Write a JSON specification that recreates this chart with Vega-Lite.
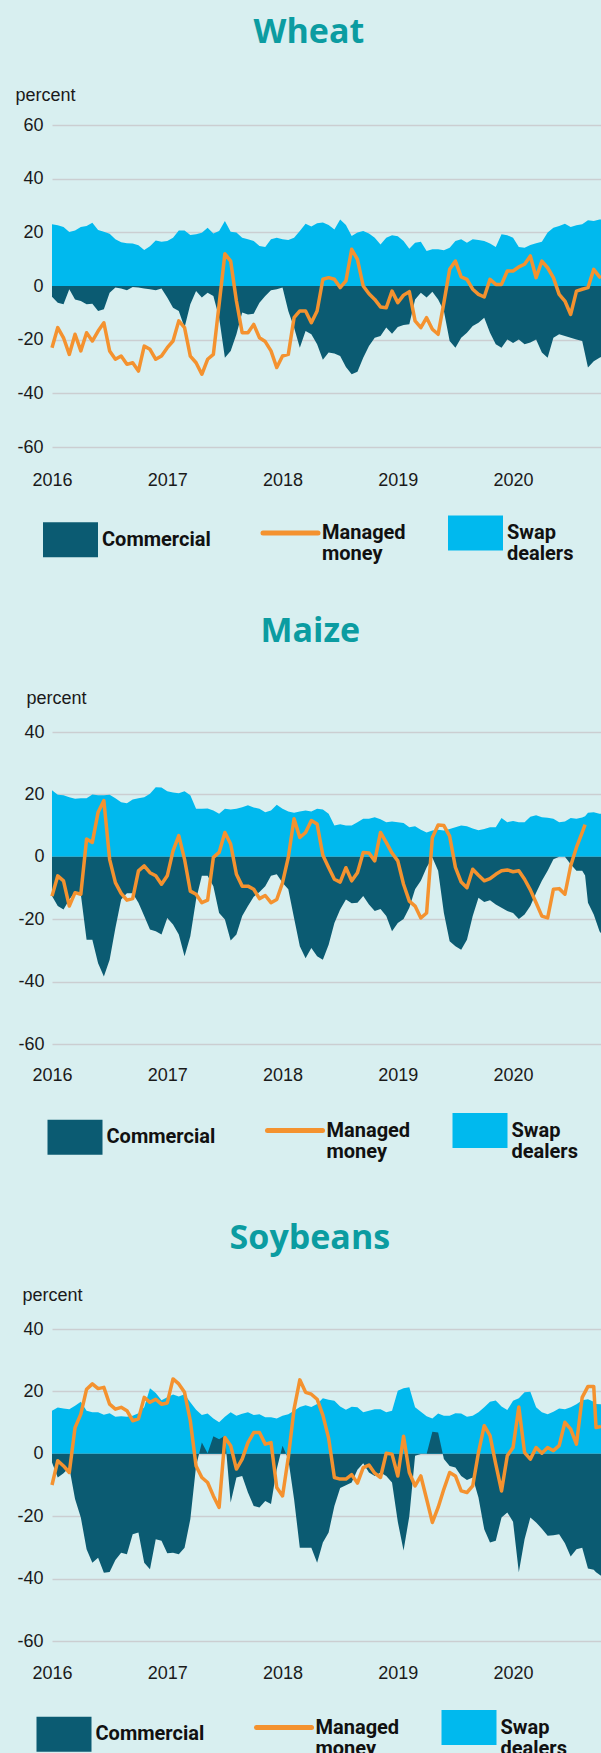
{
"$schema": "https://vega.github.io/schema/vega-lite/v6.json",
"background": "#d8eff0",
"padding": {"left": 15, "top": 16, "right": 0, "bottom": 0},
"spacing": 51,
"config": {"view": {"stroke": null}, "font": "Liberation Sans"},
"datasets": {
"wheat": [
{"year":2016.00,"commercial":-4.0,"managed":-23.0,"swap":23.0},
{"year":2016.05,"commercial":-6.2,"managed":-15.5,"swap":22.6},
{"year":2016.10,"commercial":-6.8,"managed":-19.3,"swap":22.0},
{"year":2016.15,"commercial":-1.2,"managed":-25.5,"swap":20.1},
{"year":2016.20,"commercial":-5.0,"managed":-18.0,"swap":20.7},
{"year":2016.25,"commercial":-5.6,"managed":-24.2,"swap":22.0},
{"year":2016.30,"commercial":-6.8,"managed":-17.4,"swap":22.4},
{"year":2016.35,"commercial":-6.6,"managed":-20.5,"swap":23.6},
{"year":2016.40,"commercial":-9.3,"managed":-16.8,"swap":20.9},
{"year":2016.45,"commercial":-8.7,"managed":-13.7,"swap":20.2},
{"year":2016.50,"commercial":-2.5,"managed":-24.2,"swap":19.5},
{"year":2016.55,"commercial":-0.6,"managed":-27.3,"swap":17.4},
{"year":2016.60,"commercial":-0.9,"managed":-26.1,"swap":16.3},
{"year":2016.65,"commercial":-1.6,"managed":-29.2,"swap":15.9},
{"year":2016.70,"commercial":-0.4,"managed":-28.6,"swap":15.8},
{"year":2016.75,"commercial":-0.6,"managed":-31.7,"swap":15.2},
{"year":2016.80,"commercial":-0.9,"managed":-22.4,"swap":13.4},
{"year":2016.85,"commercial":-1.2,"managed":-23.6,"swap":14.8},
{"year":2016.90,"commercial":-1.6,"managed":-27.3,"swap":17.0},
{"year":2016.95,"commercial":-0.9,"managed":-26.1,"swap":16.5},
{"year":2017.00,"commercial":-4.3,"managed":-23.0,"swap":16.8},
{"year":2017.05,"commercial":-8.1,"managed":-20.5,"swap":18.0},
{"year":2017.10,"commercial":-9.3,"managed":-13.0,"swap":20.7},
{"year":2017.15,"commercial":-15.5,"managed":-15.5,"swap":20.7},
{"year":2017.20,"commercial":-6.8,"managed":-26.1,"swap":19.0},
{"year":2017.25,"commercial":-1.9,"managed":-28.6,"swap":19.3},
{"year":2017.30,"commercial":-4.3,"managed":-32.9,"swap":19.8},
{"year":2017.35,"commercial":-2.5,"managed":-27.3,"swap":21.7},
{"year":2017.40,"commercial":-3.7,"managed":-25.5,"swap":19.6},
{"year":2017.45,"commercial":-11.8,"managed":-6.8,"swap":20.5},
{"year":2017.50,"commercial":-26.7,"managed":12.0,"swap":24.2},
{"year":2017.55,"commercial":-24.2,"managed":9.3,"swap":20.2},
{"year":2017.60,"commercial":-18.0,"managed":-5.6,"swap":19.9},
{"year":2017.65,"commercial":-9.9,"managed":-17.4,"swap":18.0},
{"year":2017.70,"commercial":-10.6,"managed":-17.4,"swap":17.4},
{"year":2017.75,"commercial":-10.3,"managed":-14.3,"swap":16.8},
{"year":2017.80,"commercial":-6.2,"managed":-19.3,"swap":14.9},
{"year":2017.85,"commercial":-3.7,"managed":-20.7,"swap":14.5},
{"year":2017.90,"commercial":-1.6,"managed":-24.2,"swap":17.4},
{"year":2017.95,"commercial":-1.2,"managed":-30.4,"swap":18.0},
{"year":2018.00,"commercial":-0.6,"managed":-26.1,"swap":17.4},
{"year":2018.05,"commercial":-9.3,"managed":-25.5,"swap":17.1},
{"year":2018.10,"commercial":-15.5,"managed":-11.8,"swap":18.0},
{"year":2018.15,"commercial":-23.0,"managed":-9.3,"swap":20.5},
{"year":2018.20,"commercial":-16.8,"managed":-9.3,"swap":23.2},
{"year":2018.25,"commercial":-18.0,"managed":-13.7,"swap":22.2},
{"year":2018.30,"commercial":-21.7,"managed":-9.3,"swap":23.4},
{"year":2018.35,"commercial":-27.5,"managed":2.5,"swap":23.7},
{"year":2018.40,"commercial":-24.8,"managed":3.1,"swap":22.7},
{"year":2018.45,"commercial":-25.2,"managed":2.5,"swap":21.1},
{"year":2018.50,"commercial":-26.1,"managed":-0.6,"swap":24.8},
{"year":2018.55,"commercial":-30.2,"managed":1.9,"swap":22.7},
{"year":2018.60,"commercial":-32.9,"managed":13.7,"swap":18.6},
{"year":2018.65,"commercial":-32.0,"managed":9.9,"swap":19.9},
{"year":2018.70,"commercial":-26.7,"managed":0.0,"swap":20.5},
{"year":2018.75,"commercial":-22.4,"managed":-2.9,"swap":19.6},
{"year":2018.80,"commercial":-19.3,"managed":-5.0,"swap":18.0},
{"year":2018.85,"commercial":-18.6,"managed":-7.8,"swap":15.5},
{"year":2018.90,"commercial":-15.5,"managed":-8.1,"swap":18.0},
{"year":2018.95,"commercial":-17.8,"managed":-1.9,"swap":18.9},
{"year":2019.00,"commercial":-15.3,"managed":-6.2,"swap":18.5},
{"year":2019.05,"commercial":-14.5,"managed":-3.4,"swap":16.8},
{"year":2019.10,"commercial":-14.3,"managed":-2.1,"swap":13.9},
{"year":2019.15,"commercial":-5.0,"managed":-13.0,"swap":16.1},
{"year":2019.20,"commercial":-2.5,"managed":-15.5,"swap":16.5},
{"year":2019.25,"commercial":-4.3,"managed":-11.8,"swap":13.0},
{"year":2019.30,"commercial":-2.1,"managed":-16.1,"swap":13.7},
{"year":2019.35,"commercial":-5.0,"managed":-18.0,"swap":13.7},
{"year":2019.40,"commercial":-9.3,"managed":-6.2,"swap":13.3},
{"year":2019.45,"commercial":-20.5,"managed":6.2,"swap":14.3},
{"year":2019.50,"commercial":-23.0,"managed":9.3,"swap":16.8},
{"year":2019.55,"commercial":-19.3,"managed":3.4,"swap":17.4},
{"year":2019.60,"commercial":-17.4,"managed":2.5,"swap":16.1},
{"year":2019.65,"commercial":-14.9,"managed":-1.2,"swap":17.4},
{"year":2019.70,"commercial":-13.7,"managed":-3.1,"swap":17.1},
{"year":2019.75,"commercial":-11.8,"managed":-4.1,"swap":16.8},
{"year":2019.80,"commercial":-17.4,"managed":2.5,"swap":15.8},
{"year":2019.85,"commercial":-21.7,"managed":0.6,"swap":14.5},
{"year":2019.90,"commercial":-23.0,"managed":0.6,"swap":19.3},
{"year":2019.95,"commercial":-19.9,"managed":5.6,"swap":18.9},
{"year":2020.00,"commercial":-21.2,"managed":5.6,"swap":18.0},
{"year":2020.05,"commercial":-19.9,"managed":7.1,"swap":14.5},
{"year":2020.10,"commercial":-21.7,"managed":8.1,"swap":14.3},
{"year":2020.15,"commercial":-21.1,"managed":11.2,"swap":15.3},
{"year":2020.20,"commercial":-19.9,"managed":3.1,"swap":15.9},
{"year":2020.25,"commercial":-24.8,"managed":9.3,"swap":16.5},
{"year":2020.30,"commercial":-26.7,"managed":6.8,"swap":19.9},
{"year":2020.35,"commercial":-19.3,"managed":3.1,"swap":21.7},
{"year":2020.40,"commercial":-18.0,"managed":-3.1,"swap":22.4},
{"year":2020.45,"commercial":-18.6,"managed":-5.6,"swap":23.2},
{"year":2020.50,"commercial":-19.3,"managed":-10.6,"swap":22.0},
{"year":2020.55,"commercial":-19.9,"managed":-1.9,"swap":22.6},
{"year":2020.60,"commercial":-20.5,"managed":-1.2,"swap":23.0},
{"year":2020.65,"commercial":-30.4,"managed":-0.6,"swap":24.5},
{"year":2020.70,"commercial":-28.0,"managed":6.2,"swap":24.2},
{"year":2020.75,"commercial":-26.7,"managed":3.4,"swap":24.8},
{"year":2020.763,"commercial":-26.5,"managed":3.0,"swap":24.8}
],
"maize": [
{"year":2016.00,"commercial":-12.6,"managed":-12.6,"swap":21.3},
{"year":2016.05,"commercial":-15.8,"managed":-6.1,"swap":19.9},
{"year":2016.10,"commercial":-16.9,"managed":-7.7,"swap":19.7},
{"year":2016.15,"commercial":-13.7,"managed":-15.8,"swap":19.1},
{"year":2016.20,"commercial":-11.3,"managed":-11.5,"swap":18.6},
{"year":2016.25,"commercial":-12.0,"managed":-12.0,"swap":18.8},
{"year":2016.30,"commercial":-26.6,"managed":5.7,"swap":18.8},
{"year":2016.35,"commercial":-26.6,"managed":4.6,"swap":20.0},
{"year":2016.40,"commercial":-34.1,"managed":14.3,"swap":19.7},
{"year":2016.45,"commercial":-38.4,"managed":18.0,"swap":19.7},
{"year":2016.50,"commercial":-33.0,"managed":-0.8,"swap":19.9},
{"year":2016.55,"commercial":-22.8,"managed":-8.3,"swap":18.8},
{"year":2016.60,"commercial":-13.7,"managed":-11.7,"swap":17.5},
{"year":2016.65,"commercial":-11.7,"managed":-13.9,"swap":17.2},
{"year":2016.70,"commercial":-11.7,"managed":-13.4,"swap":18.4},
{"year":2016.75,"commercial":-14.7,"managed":-4.5,"swap":18.8},
{"year":2016.80,"commercial":-19.0,"managed":-2.9,"swap":19.1},
{"year":2016.85,"commercial":-23.3,"managed":-5.1,"swap":20.2},
{"year":2016.90,"commercial":-23.9,"managed":-6.1,"swap":22.3},
{"year":2016.95,"commercial":-24.9,"managed":-8.8,"swap":22.2},
{"year":2017.00,"commercial":-19.6,"managed":-6.1,"swap":21.0},
{"year":2017.05,"commercial":-21.7,"managed":1.9,"swap":20.6},
{"year":2017.10,"commercial":-24.9,"managed":6.8,"swap":20.4},
{"year":2017.15,"commercial":-31.9,"managed":-0.8,"swap":21.0},
{"year":2017.20,"commercial":-25.5,"managed":-11.0,"swap":19.7},
{"year":2017.25,"commercial":-13.7,"managed":-12.0,"swap":15.4},
{"year":2017.30,"commercial":-6.1,"managed":-14.7,"swap":15.4},
{"year":2017.35,"commercial":-6.1,"managed":-13.9,"swap":15.5},
{"year":2017.40,"commercial":-9.4,"managed":-0.2,"swap":14.8},
{"year":2017.45,"commercial":-18.0,"managed":1.4,"swap":13.8},
{"year":2017.50,"commercial":-20.1,"managed":7.8,"swap":15.4},
{"year":2017.55,"commercial":-26.8,"managed":4.1,"swap":15.2},
{"year":2017.60,"commercial":-24.9,"managed":-5.6,"swap":15.4},
{"year":2017.65,"commercial":-19.0,"managed":-9.4,"swap":15.9},
{"year":2017.70,"commercial":-15.8,"managed":-9.4,"swap":16.5},
{"year":2017.75,"commercial":-12.8,"managed":-10.4,"swap":15.8},
{"year":2017.80,"commercial":-11.3,"managed":-13.4,"swap":15.4},
{"year":2017.85,"commercial":-9.4,"managed":-12.4,"swap":14.3},
{"year":2017.90,"commercial":-6.1,"managed":-14.7,"swap":14.8},
{"year":2017.95,"commercial":-5.6,"managed":-13.7,"swap":16.7},
{"year":2018.00,"commercial":-8.3,"managed":-8.3,"swap":15.4},
{"year":2018.05,"commercial":-10.4,"managed":-0.2,"swap":14.5},
{"year":2018.10,"commercial":-19.6,"managed":12.2,"swap":14.1},
{"year":2018.15,"commercial":-28.7,"managed":6.2,"swap":14.5},
{"year":2018.20,"commercial":-32.5,"managed":7.8,"swap":14.8},
{"year":2018.25,"commercial":-29.2,"managed":11.6,"swap":14.5},
{"year":2018.30,"commercial":-31.9,"managed":10.5,"swap":15.4},
{"year":2018.35,"commercial":-33.0,"managed":0.5,"swap":15.2},
{"year":2018.40,"commercial":-28.2,"managed":-3.4,"swap":13.8},
{"year":2018.45,"commercial":-21.2,"managed":-7.2,"swap":10.0},
{"year":2018.50,"commercial":-16.9,"managed":-8.1,"swap":10.4},
{"year":2018.55,"commercial":-13.7,"managed":-3.5,"swap":10.0},
{"year":2018.60,"commercial":-14.9,"managed":-7.7,"swap":10.0},
{"year":2018.65,"commercial":-14.7,"managed":-5.1,"swap":11.1},
{"year":2018.70,"commercial":-12.6,"managed":1.4,"swap":12.2},
{"year":2018.75,"commercial":-15.3,"managed":1.2,"swap":12.2},
{"year":2018.80,"commercial":-17.4,"managed":-1.3,"swap":12.7},
{"year":2018.85,"commercial":-16.7,"managed":7.8,"swap":12.0},
{"year":2018.90,"commercial":-19.0,"managed":4.6,"swap":11.1},
{"year":2018.95,"commercial":-23.9,"managed":1.2,"swap":11.3},
{"year":2019.00,"commercial":-21.2,"managed":-1.3,"swap":11.1},
{"year":2019.05,"commercial":-19.9,"managed":-8.8,"swap":10.8},
{"year":2019.10,"commercial":-16.3,"managed":-14.2,"swap":9.5},
{"year":2019.15,"commercial":-10.4,"managed":-15.8,"swap":9.8},
{"year":2019.20,"commercial":-7.7,"managed":-19.6,"swap":8.7},
{"year":2019.25,"commercial":-3.4,"managed":-18.0,"swap":7.8},
{"year":2019.30,"commercial":-0.2,"managed":6.2,"swap":8.4},
{"year":2019.35,"commercial":-4.5,"managed":10.2,"swap":8.7},
{"year":2019.40,"commercial":-18.0,"managed":10.0,"swap":8.4},
{"year":2019.45,"commercial":-27.1,"managed":6.6,"swap":8.9},
{"year":2019.50,"commercial":-28.7,"managed":-3.4,"swap":9.5},
{"year":2019.55,"commercial":-29.8,"managed":-8.1,"swap":10.0},
{"year":2019.60,"commercial":-26.6,"managed":-9.9,"swap":9.8},
{"year":2019.65,"commercial":-19.0,"managed":-4.0,"swap":9.1},
{"year":2019.70,"commercial":-13.1,"managed":-5.9,"swap":8.5},
{"year":2019.75,"commercial":-14.5,"managed":-7.7,"swap":8.9},
{"year":2019.80,"commercial":-13.9,"managed":-7.0,"swap":9.5},
{"year":2019.85,"commercial":-15.3,"managed":-5.6,"swap":9.5},
{"year":2019.90,"commercial":-16.3,"managed":-4.5,"swap":12.4},
{"year":2019.95,"commercial":-17.4,"managed":-4.2,"swap":11.1},
{"year":2020.00,"commercial":-18.0,"managed":-4.8,"swap":11.5},
{"year":2020.05,"commercial":-19.9,"managed":-4.5,"swap":11.1},
{"year":2020.10,"commercial":-18.5,"managed":-7.2,"swap":11.1},
{"year":2020.15,"commercial":-15.8,"managed":-10.6,"swap":12.8},
{"year":2020.20,"commercial":-11.5,"managed":-14.7,"swap":13.3},
{"year":2020.25,"commercial":-7.7,"managed":-19.0,"swap":12.7},
{"year":2020.30,"commercial":-4.5,"managed":-19.6,"swap":12.5},
{"year":2020.35,"commercial":-0.8,"managed":-10.4,"swap":12.2},
{"year":2020.40,"commercial":0.0,"managed":-10.2,"swap":11.1},
{"year":2020.45,"commercial":0.0,"managed":-12.0,"swap":11.3},
{"year":2020.50,"commercial":-2.4,"managed":-2.9,"swap":12.4},
{"year":2020.55,"commercial":-4.5,"managed":3.0,"swap":12.2},
{"year":2020.60,"commercial":-4.5,"managed":7.8,"swap":12.6},
{"year":2020.625,"commercial":-6.0,"managed":10.3,"swap":13.0},
{"year":2020.65,"commercial":-14.7,"managed":null,"swap":14.1},
{"year":2020.70,"commercial":-18.5,"managed":null,"swap":14.3},
{"year":2020.75,"commercial":-23.9,"managed":null,"swap":13.8},
{"year":2020.763,"commercial":-24.5,"managed":null,"swap":13.8}
],
"soy": [
{"year":2016.00,"commercial":-2.8,"managed":-10.0,"swap":13.8},
{"year":2016.05,"commercial":-7.6,"managed":-2.2,"swap":14.8},
{"year":2016.10,"commercial":-6.2,"managed":-3.9,"swap":14.5},
{"year":2016.15,"commercial":-4.4,"managed":-6.0,"swap":14.3},
{"year":2016.20,"commercial":-14.5,"managed":8.4,"swap":15.4},
{"year":2016.25,"commercial":-20.4,"managed":12.7,"swap":16.7},
{"year":2016.30,"commercial":-30.6,"managed":20.7,"swap":13.8},
{"year":2016.35,"commercial":-34.9,"managed":22.4,"swap":13.3},
{"year":2016.40,"commercial":-33.3,"managed":20.9,"swap":13.3},
{"year":2016.45,"commercial":-38.1,"managed":21.3,"swap":12.5},
{"year":2016.50,"commercial":-37.9,"managed":15.9,"swap":13.0},
{"year":2016.55,"commercial":-34.0,"managed":14.3,"swap":11.9},
{"year":2016.60,"commercial":-31.7,"managed":14.9,"swap":12.0},
{"year":2016.65,"commercial":-32.2,"managed":13.8,"swap":11.9},
{"year":2016.70,"commercial":-25.8,"managed":10.6,"swap":12.2},
{"year":2016.75,"commercial":-25.2,"managed":11.2,"swap":13.0},
{"year":2016.80,"commercial":-34.9,"managed":18.1,"swap":14.9},
{"year":2016.85,"commercial":-37.0,"managed":16.5,"swap":21.0},
{"year":2016.90,"commercial":-27.4,"managed":17.5,"swap":19.5},
{"year":2016.95,"commercial":-27.9,"managed":15.9,"swap":17.2},
{"year":2017.00,"commercial":-31.9,"managed":16.3,"swap":18.1},
{"year":2017.05,"commercial":-31.7,"managed":24.0,"swap":19.0},
{"year":2017.10,"commercial":-32.2,"managed":22.4,"swap":18.4},
{"year":2017.15,"commercial":-30.1,"managed":19.7,"swap":19.1},
{"year":2017.20,"commercial":-21.0,"managed":10.6,"swap":16.5},
{"year":2017.25,"commercial":-3.9,"managed":-3.9,"swap":14.1},
{"year":2017.30,"commercial":3.6,"managed":-7.6,"swap":12.4},
{"year":2017.35,"commercial":0.2,"managed":-9.2,"swap":12.9},
{"year":2017.40,"commercial":5.6,"managed":-13.5,"swap":11.3},
{"year":2017.45,"commercial":4.7,"managed":-17.2,"swap":10.1},
{"year":2017.50,"commercial":5.8,"managed":5.2,"swap":11.9},
{"year":2017.55,"commercial":-15.6,"managed":2.6,"swap":13.3},
{"year":2017.60,"commercial":-7.6,"managed":-4.9,"swap":12.2},
{"year":2017.65,"commercial":-7.1,"managed":-1.7,"swap":12.8},
{"year":2017.70,"commercial":-12.4,"managed":3.6,"swap":13.3},
{"year":2017.75,"commercial":-16.7,"managed":6.8,"swap":12.4},
{"year":2017.80,"commercial":-17.2,"managed":6.8,"swap":12.7},
{"year":2017.85,"commercial":-15.1,"managed":3.1,"swap":11.7},
{"year":2017.90,"commercial":-16.1,"managed":3.6,"swap":11.7},
{"year":2017.95,"commercial":-4.9,"managed":-10.8,"swap":11.3},
{"year":2018.00,"commercial":2.6,"managed":-13.5,"swap":12.2},
{"year":2018.05,"commercial":-1.7,"managed":-1.2,"swap":12.7},
{"year":2018.10,"commercial":-14.5,"managed":14.3,"swap":13.8},
{"year":2018.15,"commercial":-30.1,"managed":23.7,"swap":15.0},
{"year":2018.20,"commercial":-30.1,"managed":19.7,"swap":15.6},
{"year":2018.25,"commercial":-30.1,"managed":19.1,"swap":15.0},
{"year":2018.30,"commercial":-34.9,"managed":17.5,"swap":16.0},
{"year":2018.35,"commercial":-28.4,"managed":12.4,"swap":17.8},
{"year":2018.40,"commercial":-25.2,"managed":5.0,"swap":17.3},
{"year":2018.45,"commercial":-16.7,"managed":-7.6,"swap":17.0},
{"year":2018.50,"commercial":-11.0,"managed":-8.1,"swap":15.2},
{"year":2018.55,"commercial":-10.1,"managed":-8.1,"swap":14.1},
{"year":2018.60,"commercial":-9.2,"managed":-6.7,"swap":15.1},
{"year":2018.65,"commercial":-5.1,"managed":-9.4,"swap":14.9},
{"year":2018.70,"commercial":-3.0,"managed":-4.4,"swap":13.3},
{"year":2018.75,"commercial":-6.0,"managed":-3.6,"swap":13.8},
{"year":2018.80,"commercial":-7.1,"managed":-6.2,"swap":14.3},
{"year":2018.85,"commercial":-6.0,"managed":-7.6,"swap":14.3},
{"year":2018.90,"commercial":-7.1,"managed":0.2,"swap":13.3},
{"year":2018.95,"commercial":-9.2,"managed":-0.1,"swap":13.8},
{"year":2019.00,"commercial":-21.8,"managed":-7.1,"swap":20.2},
{"year":2019.05,"commercial":-31.0,"managed":5.6,"swap":21.0},
{"year":2019.10,"commercial":-20.0,"managed":-6.0,"swap":21.3},
{"year":2019.15,"commercial":-0.6,"managed":-10.3,"swap":14.9},
{"year":2019.20,"commercial":-0.1,"managed":-7.1,"swap":13.5},
{"year":2019.25,"commercial":-0.1,"managed":-14.5,"swap":12.0},
{"year":2019.30,"commercial":7.1,"managed":-22.0,"swap":11.3},
{"year":2019.35,"commercial":6.8,"managed":-17.2,"swap":12.9},
{"year":2019.40,"commercial":-1.7,"managed":-11.3,"swap":12.2},
{"year":2019.45,"commercial":-3.9,"managed":-6.0,"swap":12.2},
{"year":2019.50,"commercial":-4.4,"managed":-7.1,"swap":13.0},
{"year":2019.55,"commercial":-7.1,"managed":-11.9,"swap":12.9},
{"year":2019.60,"commercial":-8.4,"managed":-12.4,"swap":11.9},
{"year":2019.65,"commercial":-7.6,"managed":-10.3,"swap":12.2},
{"year":2019.70,"commercial":-14.0,"managed":0.4,"swap":13.3},
{"year":2019.75,"commercial":-24.2,"managed":9.0,"swap":14.9},
{"year":2019.80,"commercial":-28.4,"managed":5.8,"swap":16.7},
{"year":2019.85,"commercial":-27.9,"managed":-3.3,"swap":17.1},
{"year":2019.90,"commercial":-20.4,"managed":-11.9,"swap":15.2},
{"year":2019.95,"commercial":-18.8,"managed":-0.6,"swap":14.0},
{"year":2020.00,"commercial":-21.8,"managed":2.0,"swap":17.0},
{"year":2020.05,"commercial":-38.0,"managed":15.0,"swap":17.8},
{"year":2020.10,"commercial":-27.4,"managed":0.4,"swap":19.7},
{"year":2020.15,"commercial":-20.4,"managed":-1.7,"swap":19.9},
{"year":2020.20,"commercial":-22.0,"managed":2.0,"swap":14.9},
{"year":2020.25,"commercial":-24.0,"managed":0.2,"swap":13.3},
{"year":2020.30,"commercial":-26.3,"managed":2.0,"swap":12.7},
{"year":2020.35,"commercial":-26.1,"managed":1.0,"swap":13.5},
{"year":2020.40,"commercial":-25.8,"managed":2.6,"swap":14.5},
{"year":2020.45,"commercial":-28.7,"managed":10.1,"swap":14.3},
{"year":2020.50,"commercial":-32.9,"managed":7.9,"swap":14.9},
{"year":2020.55,"commercial":-30.6,"managed":3.1,"swap":15.9},
{"year":2020.60,"commercial":-30.1,"managed":18.1,"swap":17.2},
{"year":2020.65,"commercial":-36.8,"managed":21.6,"swap":17.5},
{"year":2020.70,"commercial":-37.2,"managed":21.6,"swap":16.7},
{"year":2020.72,"commercial":-38.0,"managed":8.4,"swap":16.0},
{"year":2020.763,"commercial":-39.1,"managed":8.8,"swap":15.9}
]
},
"resolve": {"scale": {"color": "independent", "x": "independent", "y": "independent"}, "legend": {"color": "independent"}, "axis": {"x": "independent", "y": "independent"}},
"vconcat": [
{
"width": 549, "height": 322,
"data": {"name": "wheat"},
"title": {"text": "Wheat", "font": "Open Sans", "fontSize": 34, "fontWeight": "bold", "color": "#0b9ca1", "anchor": "middle", "frame": "bounds", "offset": 36},
"encoding": {"x": {"field": "year", "type": "quantitative", "scale": {"domain": [2016, 2020.763], "nice": false, "zero": false}, "axis": {"title": null, "values": [2016, 2017, 2018, 2019, 2020], "labelExpr": "'' + datum.value", "labelFont": "Liberation Sans", "labelFontSize": 18, "labelColor": "#1a1a1a", "labelPadding": 24, "ticks": false, "tickSize": 0, "domain": false, "grid": false, "labelFlush": false, "labelOverlap": false}}},
"layer": [
{"mark": {"type": "area"}, "encoding": {"y": {"field": "swap", "type": "quantitative", "stack": null, "scale": {"domain": [-60, 60], "nice": false, "zero": false}, "axis": {"title": "percent", "titleAngle": 0, "titleAlign": "left", "titleBaseline": "alphabetic", "titleX": -37, "titleY": -25, "titleFont": "Liberation Sans", "titleFontSize": 18, "titleFontWeight": "normal", "titleColor": "#1a1a1a", "values": [-60, -40, -20, 0, 20, 40, 60], "labelExpr": "'' + datum.value", "labelFont": "Liberation Sans", "labelFontSize": 18, "labelColor": "#1a1a1a", "labelPadding": 9, "ticks": false, "tickSize": 0, "domain": false, "grid": true, "gridColor": "#cbced1", "gridWidth": 1.5}},
 "color": {"datum": "Swap dealers", "type": "nominal", "scale": {"domain": ["Commercial", "Managed money", "Swap dealers"], "range": ["#0b5b72", "#f4922f", "#00b9ee"]},
  "legend": {"orient": "none", "legendX": 8.5, "legendY": 398, "direction": "horizontal", "columns": 3, "title": null, "padding": 0, "columnPadding": 41, "labelOffset": 21.5, "symbolSize": 3025, "symbolStrokeWidth": 0, "labelFont": "Roboto", "labelFontSize": 20, "labelFontWeight": "bold", "labelColor": "#111111", "labelLimit": 0,
   "labelExpr": "datum.label == 'Managed money' ? ['Managed', 'money'] : datum.label == 'Swap dealers' ? ['Swap', 'dealers'] : datum.label",
   "encode": {"symbols": {"update": {"shape": {"signal": "datum.value == 'Managed money' ? 'M-1,0H1' : 'M-1,-0.636H1V0.636H-1Z'"}, "fill": {"signal": "datum.value == 'Commercial' ? '#0b5b72' : datum.value == 'Swap dealers' ? '#00b9ee' : 'transparent'"}, "stroke": {"signal": "datum.value == 'Managed money' ? '#f4922f' : 'transparent'"}, "strokeWidth": {"signal": "datum.value == 'Managed money' ? 5 : 0"}, "strokeCap": {"value": "round"}, "opacity": {"value": 1}}}, "labels": {"update": {"lineHeight": {"value": 21}}}}}}}},
{"mark": {"type": "area"}, "encoding": {"y": {"field": "commercial", "type": "quantitative", "stack": null}, "color": {"datum": "Commercial", "type": "nominal"}}},
{"mark": {"type": "rule", "color": "#000000", "strokeWidth": 3}, "encoding": {"y": {"datum": 0}}},
{"mark": {"type": "line", "strokeWidth": 3.5, "strokeJoin": "round"}, "encoding": {"y": {"field": "managed", "type": "quantitative"}, "color": {"datum": "Managed money", "type": "nominal"}}}
]
},
{
"width": 549, "height": 312,
"data": {"name": "maize"},
"title": {"text": "Maize", "font": "Open Sans", "fontSize": 34, "fontWeight": "bold", "color": "#0b9ca1", "anchor": "middle", "frame": "bounds", "offset": 40},
"encoding": {"x": {"field": "year", "type": "quantitative", "scale": {"domain": [2016, 2020.763], "nice": false, "zero": false}, "axis": {"title": null, "values": [2016, 2017, 2018, 2019, 2020], "labelExpr": "'' + datum.value", "labelFont": "Liberation Sans", "labelFontSize": 18, "labelColor": "#1a1a1a", "labelPadding": 22, "ticks": false, "tickSize": 0, "domain": false, "grid": false, "labelFlush": false, "labelOverlap": false}}},
"layer": [
{"mark": {"type": "area"}, "encoding": {"y": {"field": "swap", "type": "quantitative", "stack": null, "scale": {"domain": [-60, 40], "nice": false, "zero": false}, "axis": {"title": "percent", "titleAngle": 0, "titleAlign": "left", "titleBaseline": "alphabetic", "titleX": -26, "titleY": -29, "titleFont": "Liberation Sans", "titleFontSize": 18, "titleFontWeight": "normal", "titleColor": "#1a1a1a", "values": [-60, -40, -20, 0, 20, 40], "labelExpr": "'' + datum.value", "labelFont": "Liberation Sans", "labelFontSize": 18, "labelColor": "#1a1a1a", "labelPadding": 8, "ticks": false, "tickSize": 0, "domain": false, "grid": true, "gridColor": "#cbced1", "gridWidth": 1.5}},
 "color": {"datum": "Swap dealers", "type": "nominal", "scale": {"domain": ["Commercial", "Managed money", "Swap dealers"], "range": ["#0b5b72", "#f4922f", "#00b9ee"]},
  "legend": {"orient": "none", "legendX": 4, "legendY": 379.5, "direction": "horizontal", "columns": 3, "title": null, "padding": 9, "columnPadding": 41, "labelOffset": 21.5, "symbolSize": 3025, "symbolStrokeWidth": 0, "labelFont": "Roboto", "labelFontSize": 20, "labelFontWeight": "bold", "labelColor": "#111111", "labelLimit": 0,
   "labelExpr": "datum.label == 'Managed money' ? ['Managed', 'money'] : datum.label == 'Swap dealers' ? ['Swap', 'dealers'] : datum.label",
   "encode": {"symbols": {"update": {"shape": {"signal": "datum.value == 'Managed money' ? 'M-1,0H1' : 'M-1,-0.636H1V0.636H-1Z'"}, "fill": {"signal": "datum.value == 'Commercial' ? '#0b5b72' : datum.value == 'Swap dealers' ? '#00b9ee' : 'transparent'"}, "stroke": {"signal": "datum.value == 'Managed money' ? '#f4922f' : 'transparent'"}, "strokeWidth": {"signal": "datum.value == 'Managed money' ? 5 : 0"}, "strokeCap": {"value": "round"}, "opacity": {"value": 1}}}, "labels": {"update": {"lineHeight": {"value": 21}}}}}}}},
{"mark": {"type": "area"}, "encoding": {"y": {"field": "commercial", "type": "quantitative", "stack": null}, "color": {"datum": "Commercial", "type": "nominal"}}},
{"mark": {"type": "rule", "color": "#000000", "strokeWidth": 3}, "encoding": {"y": {"datum": 0}}},
{"mark": {"type": "line", "strokeWidth": 3.5, "strokeJoin": "round"}, "encoding": {"y": {"field": "managed", "type": "quantitative"}, "color": {"datum": "Managed money", "type": "nominal"}}}
]
},
{
"width": 549, "height": 312,
"data": {"name": "soy"},
"title": {"text": "Soybeans", "font": "Open Sans", "fontSize": 34, "fontWeight": "bold", "color": "#0b9ca1", "anchor": "middle", "frame": "bounds", "offset": 30},
"encoding": {"x": {"field": "year", "type": "quantitative", "scale": {"domain": [2016, 2020.763], "nice": false, "zero": false}, "axis": {"title": null, "values": [2016, 2017, 2018, 2019, 2020], "labelExpr": "'' + datum.value", "labelFont": "Liberation Sans", "labelFontSize": 18, "labelColor": "#1a1a1a", "labelPadding": 23, "ticks": false, "tickSize": 0, "domain": false, "grid": false, "labelFlush": false, "labelOverlap": false}}},
"layer": [
{"mark": {"type": "area"}, "encoding": {"y": {"field": "swap", "type": "quantitative", "stack": null, "scale": {"domain": [-60, 40], "nice": false, "zero": false}, "axis": {"title": "percent", "titleAngle": 0, "titleAlign": "left", "titleBaseline": "alphabetic", "titleX": -30, "titleY": -29, "titleFont": "Liberation Sans", "titleFontSize": 18, "titleFontWeight": "normal", "titleColor": "#1a1a1a", "values": [-60, -40, -20, 0, 20, 40], "labelExpr": "'' + datum.value", "labelFont": "Liberation Sans", "labelFontSize": 18, "labelColor": "#1a1a1a", "labelPadding": 9, "ticks": false, "tickSize": 0, "domain": false, "grid": true, "gridColor": "#cbced1", "gridWidth": 1.5}},
 "color": {"datum": "Swap dealers", "type": "nominal", "scale": {"domain": ["Commercial", "Managed money", "Swap dealers"], "range": ["#0b5b72", "#f4922f", "#00b9ee"]},
  "legend": {"orient": "none", "legendX": 2, "legendY": 388.5, "direction": "horizontal", "columns": 3, "title": null, "padding": 0, "columnPadding": 41, "labelOffset": 21.5, "symbolSize": 3025, "symbolStrokeWidth": 0, "labelFont": "Roboto", "labelFontSize": 20, "labelFontWeight": "bold", "labelColor": "#111111", "labelLimit": 0,
   "labelExpr": "datum.label == 'Managed money' ? ['Managed', 'money'] : datum.label == 'Swap dealers' ? ['Swap', 'dealers'] : datum.label",
   "encode": {"symbols": {"update": {"shape": {"signal": "datum.value == 'Managed money' ? 'M-1,0H1' : 'M-1,-0.636H1V0.636H-1Z'"}, "fill": {"signal": "datum.value == 'Commercial' ? '#0b5b72' : datum.value == 'Swap dealers' ? '#00b9ee' : 'transparent'"}, "stroke": {"signal": "datum.value == 'Managed money' ? '#f4922f' : 'transparent'"}, "strokeWidth": {"signal": "datum.value == 'Managed money' ? 5 : 0"}, "strokeCap": {"value": "round"}, "opacity": {"value": 1}}}, "labels": {"update": {"lineHeight": {"value": 21}}}}}}}},
{"mark": {"type": "area"}, "encoding": {"y": {"field": "commercial", "type": "quantitative", "stack": null}, "color": {"datum": "Commercial", "type": "nominal"}}},
{"mark": {"type": "rule", "color": "#000000", "strokeWidth": 3}, "encoding": {"y": {"datum": 0}}},
{"mark": {"type": "line", "strokeWidth": 3.5, "strokeJoin": "round"}, "encoding": {"y": {"field": "managed", "type": "quantitative"}, "color": {"datum": "Managed money", "type": "nominal"}}}
]
}
]
}
